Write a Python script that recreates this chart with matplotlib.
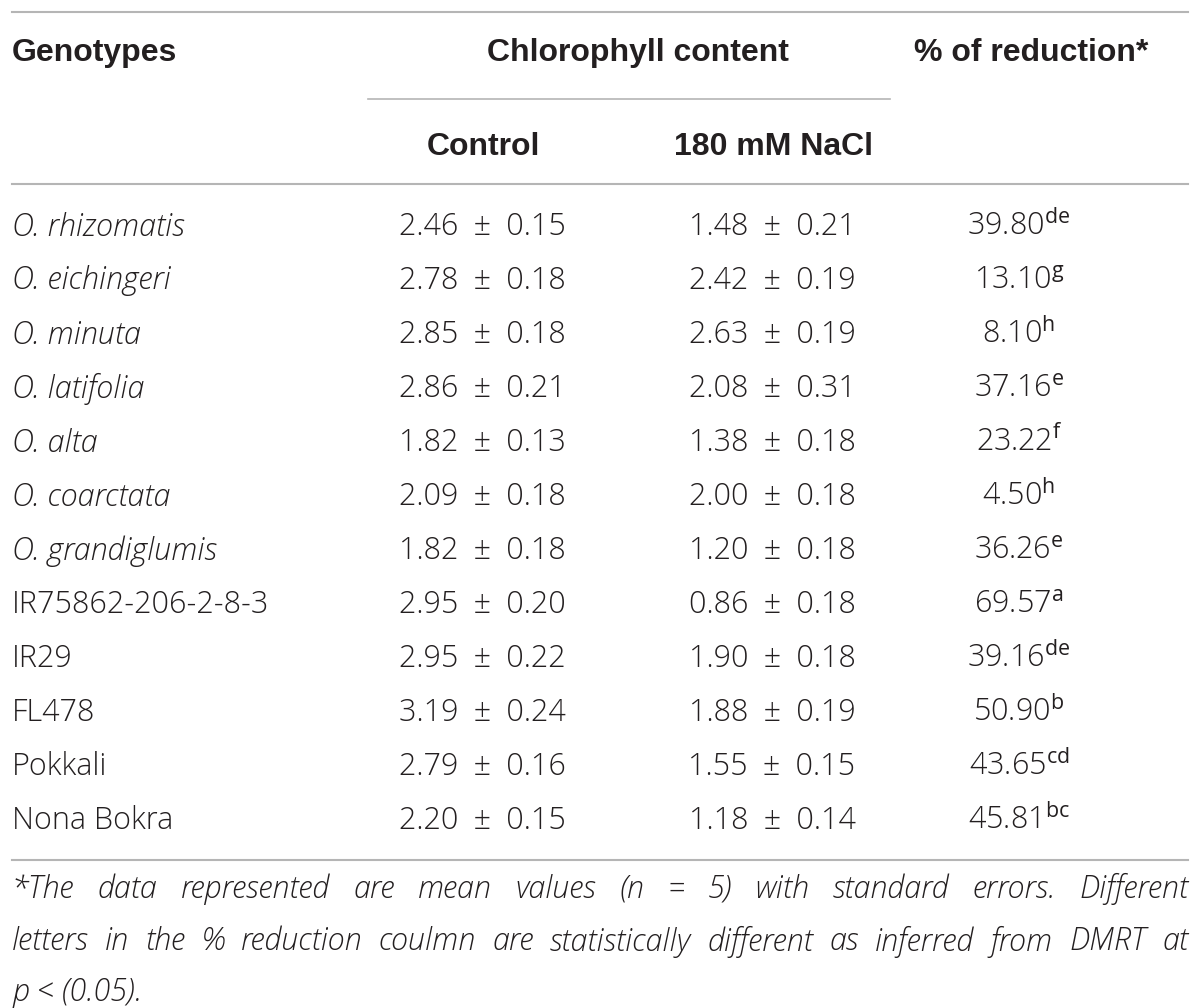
import matplotlib
matplotlib.use("Agg")
import matplotlib.pyplot as plt

plt.rcParams['font.family'] = ['Open Sans', 'Liberation Sans', 'DejaVu Sans']
plt.rcParams['mathtext.fontset'] = 'custom'
plt.rcParams['mathtext.rm'] = 'Open Sans'

genotypes = ["O. rhizomatis", "O. eichingeri", "O. minuta", "O. latifolia", "O. alta",
             "O. coarctata", "O. grandiglumis", "IR75862-206-2-8-3", "IR29", "FL478",
             "Pokkali", "Nona Bokra"]
italic_rows = [True] * 7 + [False] * 5
control_mean = [2.46, 2.78, 2.85, 2.86, 1.82, 2.09, 1.82, 2.95, 2.95, 3.19, 2.79, 2.20]
control_se = [0.15, 0.18, 0.18, 0.21, 0.13, 0.18, 0.18, 0.20, 0.22, 0.24, 0.16, 0.15]
nacl_mean = [1.48, 2.42, 2.63, 2.08, 1.38, 2.00, 1.20, 0.86, 1.90, 1.88, 1.55, 1.18]
nacl_se = [0.21, 0.19, 0.19, 0.31, 0.18, 0.18, 0.18, 0.18, 0.18, 0.19, 0.15, 0.14]
reduction = [39.80, 13.10, 8.10, 37.16, 23.22, 4.50, 36.26, 69.57, 39.16, 50.90, 43.65, 45.81]
letters = ["de", "g", "h", "e", "f", "h", "e", "a", "de", "b", "cd", "bc"]

footnote_lines = [
    "*The data represented are mean values (n = 5) with standard errors. Different",
    "letters in the % reduction coulmn are statistically different as inferred from DMRT at",
    "p < (0.05).",
]

txt = "#231f20"
rule = "#b5b5b5"
fs = 22
pm = "\u2002\u00b1\u2002"

fig = plt.figure(figsize=(12, 10.08), dpi=100)
ax = fig.add_axes([0, 0, 1, 1])
ax.set_xlim(0, 1200)
ax.set_ylim(1008, 0)
ax.axis("off")

# rules
ax.plot([12, 1188], [12, 12], color=rule, lw=1.5)
ax.plot([368, 890], [99, 99], color=rule, lw=1.2)
ax.plot([12, 1188], [184, 184], color=rule, lw=1.5)
ax.plot([12, 1188], [860, 860], color=rule, lw=1.5)

# header
hd = dict(fontsize=23, fontweight="bold", color=txt, va="center",
          family=['Liberation Sans', 'DejaVu Sans'])
ax.text(12, 53, "Genotypes", ha="left", **hd)
ax.text(638, 53, "Chlorophyll content", ha="center", **hd)
ax.text(1031, 53, "% of reduction*", ha="center", **hd)
ax.text(483, 147, "Control", ha="center", **hd)
ax.text(773, 147, "180 mM NaCl", ha="center", **hd)

# body
y0, dy = 227, 54
bd = dict(fontsize=fs, fontweight="light", color=txt, va="center")
for i, g in enumerate(genotypes):
    y = y0 + i * dy
    ax.text(12, y, g, ha="left", fontstyle="italic" if italic_rows[i] else "normal", **bd)
    ax.text(482, y, f"{control_mean[i]:.2f}{pm}{control_se[i]:.2f}", ha="center", **bd)
    ax.text(772, y, f"{nacl_mean[i]:.2f}{pm}{nacl_se[i]:.2f}", ha="center", **bd)
    ax.text(1019, y, f"{reduction[i]:.2f}" + r"$^{\mathrm{" + letters[i] + r"}}$",
            ha="center", **bd)

# footnote, justified
renderer = fig.canvas.get_renderer()
inv = ax.transData.inverted()
left, right = 12, 1188
fy = [889, 942, 993]
fn = dict(fontsize=22, fontstyle="italic", fontweight="light", color=txt, va="center", ha="left")
for k, line in enumerate(footnote_lines):
    words = line.split(" ")
    if k == len(footnote_lines) - 1:
        ax.text(left, fy[k], line, **fn)
        continue
    objs = [ax.text(0, fy[k], w, **fn) for w in words]
    widths = []
    for t in objs:
        bb = t.get_window_extent(renderer)
        x0 = inv.transform((bb.x0, bb.y0))[0]
        x1 = inv.transform((bb.x1, bb.y0))[0]
        widths.append(x1 - x0)
    gap = (right - left - sum(widths)) / (len(words) - 1)
    x = left
    for t, w in zip(objs, widths):
        t.set_x(x)
        x += w + gap

fig.savefig("out.png", dpi=100, facecolor="white")
